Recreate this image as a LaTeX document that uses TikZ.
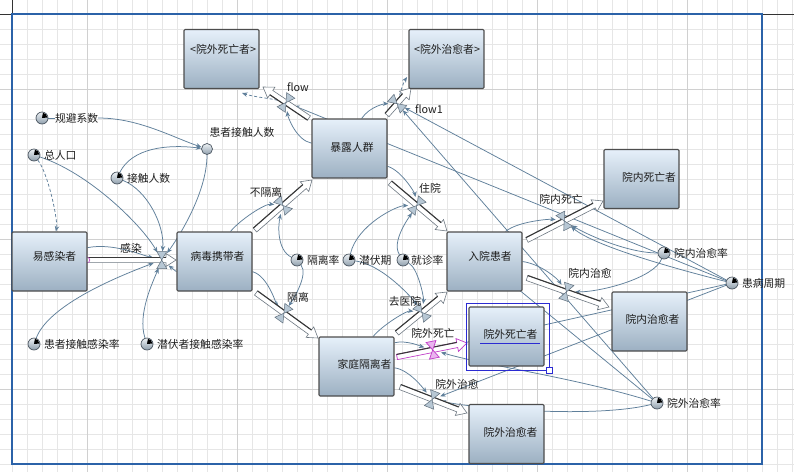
\documentclass[tikz,border=0pt]{standalone}
\usepackage{fontspec}
\newfontfamily\cjk{Noto Sans CJK SC}
\usetikzlibrary{calc,arrows.meta}
\pgfdeclarelayer{gridl}
\pgfdeclarelayer{linkl}
\pgfdeclarelayer{pipel}
\pgfsetlayers{gridl,linkl,pipel,main}
\definecolor{lnkc}{HTML}{5F7F9A}
\definecolor{frameblue}{HTML}{2B62A8}
\definecolor{stocktop}{HTML}{E6F0FA}
\definecolor{stockbot}{HTML}{9CB0C2}
\definecolor{stockedge}{HTML}{4D4D4D}
\definecolor{auxtop}{HTML}{EEF2F5}
\definecolor{auxbot}{HTML}{8E9EAC}
\definecolor{auxedge}{HTML}{4A5560}
\definecolor{valvec}{HTML}{B7C7D4}
\definecolor{valveedge}{HTML}{5F6E7C}
\definecolor{pipec}{HTML}{6E7882}
\definecolor{pipedk}{HTML}{383838}
\definecolor{magc}{HTML}{C03CC8}
\definecolor{magfill}{HTML}{EAB4EF}
\definecolor{selblue}{HTML}{2B2BD2}
\definecolor{txtc}{HTML}{1E1E1E}
\definecolor{gridc}{HTML}{E6E6E6}
\definecolor{gridmc}{HTML}{D0D0D0}

\tikzset{
  txt/.style={inner sep=0pt, outer sep=0pt, font=\cjk\fontsize{10.8}{13}\selectfont, text=txtc},
  stockbox/.style={rectangle, minimum width=75pt, minimum height=59pt, inner sep=0pt, draw=stockedge, line width=1.1pt, rounded corners=1.2pt, top color=stocktop, bottom color=stockbot},
  auxc/.style={circle, minimum size=12pt, inner sep=0pt, draw=auxedge, line width=0.7pt, top color=auxtop, bottom color=auxbot},
  vnode/.style={circle, minimum size=17pt, inner sep=0pt},
  lnk/.style={draw=lnkc, line width=0.75pt, -{Stealth[length=5.5pt,width=4.5pt]}},
  dlnk/.style={lnk, dash pattern=on 3pt off 2.2pt},
  lnkplain/.style={draw=lnkc, line width=0.75pt},
  pipebody/.style={fill=white, draw=pipec, line width=0.6pt, line join=miter},
  pipemag/.style={fill=white, draw=magc, line width=0.7pt, line join=miter},
  pipedark/.style={draw=pipedk, line width=1.1pt},
  valvefill/.style={fill=valvec, draw=valveedge, line width=0.5pt},
  valvemag/.style={fill=magfill, draw=magc, line width=0.7pt},
  gridminor/.style={draw=gridc, line width=0.5pt},
  gridmajor/.style={draw=gridmc, line width=0.6pt},
}

\newcommand{\flowpipe}[3][pipebody]{%
  \path ($(#2)!2.6pt!90:(#3)$) coordinate (pp1)
        ($(#2)!2.6pt!-90:(#3)$) coordinate (pp2)
        ($(#3)!10pt!(#2)$) coordinate (ppm);
  \path ($(ppm)!2.6pt!90:(#3)$) coordinate (pq1)
        ($(ppm)!2.6pt!-90:(#3)$) coordinate (pq2)
        ($(ppm)!6.5pt!90:(#3)$) coordinate (ph1)
        ($(ppm)!6.5pt!-90:(#3)$) coordinate (ph2);
  \filldraw[#1] (pp1) -- (pq1) -- (ph1) -- (#3) -- (ph2) -- (pq2) -- (pp2) -- cycle;
  \draw[pipedark] (pp1) -- (pq1);
}
\newcommand{\valvebow}[3][valvefill]{%
  \path ($(#2.center)!8.5pt!90:(#3)$) coordinate (vt1)
        ($(#2.center)!8.5pt!-90:(#3)$) coordinate (vt2);
  \filldraw[#1] (#2.center) -- ($(vt1)!5pt!90:(#2.center)$) -- ($(vt1)!5pt!-90:(#2.center)$) -- cycle;
  \filldraw[#1] (#2.center) -- ($(vt2)!5pt!90:(#2.center)$) -- ($(vt2)!5pt!-90:(#2.center)$) -- cycle;
}
\newcommand{\auxvar}[4]{%
  \node[auxc] (#1) at (#2) {};
  \fill[black] (#1.center) -- ++(5:5.4pt) arc (5:80:5.4pt) -- cycle;
  \node[txt, anchor=west] (#1T) at ($(#1.center)+(#3,0)$) {#4};
}

\begin{document}
\begin{tikzpicture}[x=1pt,y=1pt]
\useasboundingbox (0,0) rectangle (794,-472);

% ---------- grid and frame ----------
\begin{pgfonlayer}{gridl}
  \fill[white] (0,0) rectangle (794,-472);
  \foreach \gx in {12,27,...,792} \draw[gridminor] (\gx,0) -- (\gx,-472);
  \foreach \gy in {14,29,...,464} \draw[gridminor] (0,-\gy) -- (794,-\gy);
  \foreach \gx in {87,237,387,537,687} \draw[gridmajor] (\gx,0) -- (\gx,-472);
  \foreach \gy in {89,239,389} \draw[gridmajor] (0,-\gy) -- (794,-\gy);
  \draw[black!80, line width=1pt] (0,-14) -- (12,-14) (762,-14) -- (794,-14) (12,0) -- (12,-14);
  \draw[frameblue, line width=1.2pt] (12,-14) rectangle (762,-464);
\end{pgfonlayer}

% ---------- pipe end points ----------
\coordinate (pa1) at (87,-260);   \coordinate (pb1) at (176,-260);
\coordinate (pa2) at (255,-230);  \coordinate (pb2) at (312,-180);
\coordinate (pa3) at (256,-293);  \coordinate (pb3) at (318,-338);
\coordinate (pa4) at (309,-118);  \coordinate (pb4) at (263,-87);
\coordinate (pa5) at (387,-115);  \coordinate (pb5) at (411,-88);
\coordinate (pa6) at (390,-183);  \coordinate (pb6) at (447,-231);
\coordinate (pa7) at (397,-333);  \coordinate (pb7) at (447,-292);
\coordinate (pa8) at (397,-357);  \coordinate (pb8) at (467,-343);
\coordinate (pa9) at (400,-387);  \coordinate (pb9) at (467,-413);
\coordinate (pa10) at (527,-240); \coordinate (pb10) at (603,-201);
\coordinate (pa11) at (527,-278); \coordinate (pb11) at (609,-307);

% ---------- valve nodes ----------
\node[vnode] (vgr)   at ($(pa1)!0.84!(pb1)$) {};
\node[vnode] (vbgl)  at ($(pa2)!0.49!(pb2)$) {};
\node[vnode] (vgl)   at ($(pa3)!0.45!(pb3)$) {};
\node[vnode] (vflow) at ($(pa4)!0.50!(pb4)$) {};
\node[vnode] (vflowa) at ($(pa5)!0.42!(pb5)$) {};
\node[vnode] (vzy)   at ($(pa6)!0.47!(pb6)$) {};
\node[vnode] (vqyy)  at ($(pa7)!0.50!(pb7)$) {};
\node[vnode] (vwsw)  at ($(pa8)!0.51!(pb8)$) {};
\node[vnode] (vwzy)  at ($(pa9)!0.48!(pb9)$) {};
\node[vnode] (vnsw)  at ($(pa10)!0.49!(pb10)$) {};
\node[vnode] (vnzy)  at ($(pa11)!0.48!(pb11)$) {};

% ---------- stocks ----------
\node[stockbox] (ywsw) at (221.5,-59) {};
\node[stockbox] (ywzy) at (446.5,-59) {};
\node[stockbox] (blrq) at (349.5,-148.5) {};
\node[stockbox] (nsw)  at (641.5,-179) {};
\node[stockbox] (ygr)  at (49.5,-261.5) {};
\node[stockbox] (bdx)  at (214.5,-261.5) {};
\node[stockbox] (ryhz) at (484.5,-261.5) {};
\node[stockbox] (jtgl) at (356.5,-366.5) {};
\node[stockbox] (wsw)  at (506.5,-336.5) {};
\node[stockbox] (nzy)  at (649.5,-321.5) {};
\node[stockbox] (wzy)  at (506.5,-434) {};

\node[txt] (ywswT) at (223,-49) {<院外死亡者>};
\node[txt] (ywzyT) at (447,-49) {<院外治愈者>};
\node[txt] (blrqT) at (352,-147) {暴露人群};
\node[txt] (nswT)  at (649,-177) {院内死亡者};
\node[txt] (ygrT)  at (54.5,-256) {易感染者};
\node[txt] (bdxT)  at (217.5,-256) {病毒携带者};
\node[txt] (ryhzT) at (490,-256) {入院患者};
\node[txt] (jtglT) at (364.5,-364) {家庭隔离者};
\node[txt] (wswT)  at (510.5,-334) {院外死亡者};
\node[txt] (nzyT)  at (652.5,-319) {院内治愈者};
\node[txt] (wzyT)  at (510.5,-432) {院外治愈者};

% ---------- auxiliaries ----------
\auxvar{gbxs}{42,-118}{13}{规避系数}
\auxvar{zrk}{34,-155}{10}{总人口}
\auxvar{jcrs}{117,-178}{10}{接触人数}
\auxvar{hzgl}{34,-344}{10}{患者接触感染率}
\auxvar{qfgl}{147,-344}{10}{潜伏者接触感染率}
\auxvar{glv}{297,-260}{10}{隔离率}
\auxvar{qfq}{349,-260}{10}{潜伏期}
\auxvar{jzl}{403,-260}{8}{就诊率}
\auxvar{nzyl}{664,-253}{10}{院内治愈率}
\auxvar{hbzq}{732,-283}{10}{患病周期}
\auxvar{wzyl}{657,-403}{10}{院外治愈率}
\node[auxc, minimum size=11pt] (hzjcrs) at (207,-149) {};
\node[txt] (hzjcrsT) at (242,-132) {患者接触人数};

% ---------- flow labels ----------
\node[txt] (lgr)   at (131,-248) {感染};
\node[txt] (lbgl)  at (266,-192) {不隔离};
\node[txt] (lgl)   at (298,-297) {隔离};
\node[txt] (lflow) at (298,-87) {flow};
\node[txt] (lflowa) at (429,-109) {flow1};
\node[txt] (lzy)   at (430,-188) {住院};
\node[txt] (lqyy)  at (405,-301) {去医院};
\node[txt] (lwsw)  at (433,-333) {院外死亡};
\node[txt] (lwzy)  at (457,-384) {院外治愈};
\node[txt] (lnsw)  at (561,-199) {院内死亡};
\node[txt] (lnzy)  at (590,-273) {院内治愈};

\coordinate (dend1) at (242,-93);
\coordinate (dend2) at (407,-77);

% ---------- links ----------
\begin{pgfonlayer}{linkl}
  \draw[lnkplain] (gbxs) -- (gbxsT.west);
  \draw[lnk] (gbxsT.east) .. controls +(40,0) and +(-35,12) .. (hzjcrs);
  \draw[lnk] (jcrs) .. controls +(15,30) and +(-40,5) .. (hzjcrs);
  \draw[lnk] (jcrs) .. controls +(30,-12) and +(3,35) .. (vgr);
  \draw[lnk] (zrk) .. controls +(55,-18) and +(-20,35) .. (vgr);
  \draw[dlnk] (zrk) .. controls +(15,-20) and +(8.5,40) .. (ygr);
  \draw[lnk] (hzjcrs) .. controls +(0,-45) and +(15,20) .. (vgr);
  \draw[lnk] (ygr.20) .. controls +(25,5) and +(-20,5) .. (vgr);
  \draw[lnk] (hzgl) .. controls +(15,40) and +(-40,-15) .. (vgr);
  \draw[lnk] (qfgl) .. controls +(-10,30) and +(-8,-20) .. (vgr);
  \draw[lnk] (bdx.195) -- (vgr);
  \draw[lnk] (bdx.62) .. controls +(10,12) and +(-18,2) .. (vbgl);
  \draw[lnk] (glv) .. controls +(-20,10) and +(-5,-20) .. (vbgl);
  \draw[lnk] (glv) .. controls +(12,-15) and +(8,12) .. (vgl);
  \draw[lnk] (bdx.345) .. controls +(15,-4) and +(-8,10) .. (vgl);
  \draw[lnk] (blrq.172) .. controls +(-15,3) and +(2,-15) .. (vflow);
  \draw[lnk] (hbzq) -- (vflow);
  \draw[dlnk] (vflow) .. controls +(-15,4) and +(12,-4) .. (dend1);
  \draw[lnk] (blrq.68) .. controls +(8,12) and +(-12,0) .. (vflowa);
  \draw[lnk] (wzyl) -- (vflowa);
  \draw[lnk] (hbzq) -- (vflowa);
  \draw[dlnk] (vflowa) .. controls +(3,10) and +(-4,-6) .. (dend2);
  \draw[lnk] (blrq.335) .. controls +(15,-5) and +(-2,12) .. (vzy);
  \draw[lnk] (qfq) .. controls +(8,35) and +(-20,0) .. (vzy);
  \draw[lnk] (jzl) .. controls +(-12,18) and +(-8,-12) .. (vzy);
  \draw[lnk] (qfq) .. controls +(35,-5) and +(-8,12) .. (vqyy);
  \draw[lnk] (jzl) .. controls +(15,-8) and +(2,15) .. (vqyy);
  \draw[lnk] (jtgl.61) .. controls +(10,12) and +(-15,2) .. (vqyy);
  \draw[lnk] (jtgl.32) .. controls +(12,3) and +(-10,3) .. (vwsw);
  \draw[lnk] (jtgl.358) .. controls +(15,-2) and +(-8,10) .. (vwzy);
  \draw[lnk] (wzyl) .. controls +(-80,25) and +(50,-15) .. (vwsw);
  \draw[lnk] (wzyl) .. controls +(-60,-15) and +(50,-10) .. (vwzy);
  \draw[lnk] (hbzq) -- (vwsw);
  \draw[lnk] (hbzq) -- (vwzy);
  \draw[lnk] (wzyl) -- (ryhz.center);
  \draw[lnk] (nzyl) .. controls +(-35,0) and +(25,-15) .. (vnsw);
  \draw[lnk] (hbzq) .. controls +(-60,15) and +(30,-25) .. (vnsw);
  \draw[lnk] (ryhz.55) .. controls +(12,10) and +(-15,2) .. (vnsw);
  \draw[lnk] (ryhz.0) .. controls +(20,-3) and +(-8,12) .. (vnzy);
  \draw[lnk] (nzyl) .. controls +(-10,-25) and +(35,0) .. (vnzy);
\end{pgfonlayer}

% ---------- pipes and valves ----------
\begin{pgfonlayer}{pipel}
  \flowpipe{pa1}{pb1}
  \flowpipe{pa2}{pb2}
  \flowpipe{pa3}{pb3}
  \flowpipe{pa4}{pb4}
  \flowpipe{pa5}{pb5}
  \flowpipe{pa6}{pb6}
  \flowpipe{pa7}{pb7}
  \flowpipe[pipemag]{pa8}{pb8}
  \flowpipe{pa9}{pb9}
  \flowpipe{pa10}{pb10}
  \flowpipe{pa11}{pb11}
  \valvebow{vgr}{pb1}
  \valvebow{vbgl}{pb2}
  \valvebow{vgl}{pb3}
  \valvebow{vflow}{pb4}
  \valvebow{vflowa}{pb5}
  \valvebow{vzy}{pb6}
  \valvebow{vqyy}{pb7}
  \valvebow[valvemag]{vwsw}{pb8}
  \valvebow{vwzy}{pb9}
  \valvebow{vnsw}{pb10}
  \valvebow{vnzy}{pb11}
  \draw[magc, fill=white, line width=0.6pt] (pa1) circle (2.8pt);
\end{pgfonlayer}

% ---------- selection marks ----------
\draw[selblue, line width=0.7pt] (466,-303) rectangle (549,-370);
\filldraw[fill=white, draw=selblue, line width=0.7pt] (546,-367) rectangle (552,-373);
\draw[selblue, line width=0.9pt] (480,-343) -- (540,-343);
\end{tikzpicture}
\end{document}
